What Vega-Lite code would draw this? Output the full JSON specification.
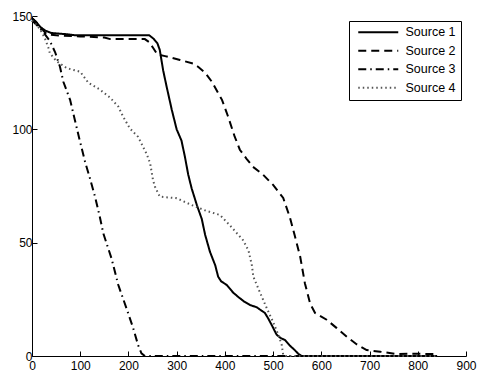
{
  "$schema": "https://vega.github.io/schema/vega-lite/v6.json",
  "width": 434,
  "height": 340,
  "autosize": "none",
  "padding": {"left": 32, "top": 16, "right": 13, "bottom": 19},
  "background": "white",
  "config": {
    "view": {"stroke": null},
    "font": "Liberation Sans",
    "axis": {"grid": false, "domainColor": "black", "tickColor": "black", "labelColor": "black", "labelFont": "Liberation Sans", "labelFontSize": 12, "domainWidth": 1, "tickWidth": 1}
  },
  "datasets": {
    "curves": [
      {"series": "Source 1", "x": 0, "y": 149}, {"series": "Source 1", "x": 8, "y": 147.5}, {"series": "Source 1", "x": 18, "y": 145}, {"series": "Source 1", "x": 28, "y": 143.5}, {"series": "Source 1", "x": 40, "y": 142.5}, {"series": "Source 1", "x": 70, "y": 142}, {"series": "Source 1", "x": 90, "y": 141.5}, {"series": "Source 1", "x": 243, "y": 141.5}, {"series": "Source 1", "x": 252, "y": 140}, {"series": "Source 1", "x": 260, "y": 138}, {"series": "Source 1", "x": 265, "y": 135}, {"series": "Source 1", "x": 272, "y": 126}, {"series": "Source 1", "x": 279, "y": 119}, {"series": "Source 1", "x": 290, "y": 108.5}, {"series": "Source 1", "x": 300, "y": 100}, {"series": "Source 1", "x": 310, "y": 95}, {"series": "Source 1", "x": 317, "y": 88}, {"series": "Source 1", "x": 324, "y": 80}, {"series": "Source 1", "x": 331, "y": 74}, {"series": "Source 1", "x": 342, "y": 66.5}, {"series": "Source 1", "x": 352, "y": 60.5}, {"series": "Source 1", "x": 359, "y": 53.5}, {"series": "Source 1", "x": 369, "y": 46}, {"series": "Source 1", "x": 380, "y": 40}, {"series": "Source 1", "x": 386, "y": 35}, {"series": "Source 1", "x": 392, "y": 33}, {"series": "Source 1", "x": 404, "y": 31.3}, {"series": "Source 1", "x": 417, "y": 28}, {"series": "Source 1", "x": 428, "y": 26}, {"series": "Source 1", "x": 440, "y": 24}, {"series": "Source 1", "x": 452, "y": 22.5}, {"series": "Source 1", "x": 466, "y": 21.5}, {"series": "Source 1", "x": 476, "y": 20}, {"series": "Source 1", "x": 483, "y": 19}, {"series": "Source 1", "x": 490, "y": 16.5}, {"series": "Source 1", "x": 497, "y": 13.7}, {"series": "Source 1", "x": 507, "y": 9.5}, {"series": "Source 1", "x": 515, "y": 8}, {"series": "Source 1", "x": 525, "y": 7}, {"series": "Source 1", "x": 535, "y": 4.5}, {"series": "Source 1", "x": 545, "y": 2.6}, {"series": "Source 1", "x": 552, "y": 1}, {"series": "Source 1", "x": 559, "y": 0}, {"series": "Source 1", "x": 840, "y": 0},
      {"series": "Source 2", "x": 0, "y": 149}, {"series": "Source 2", "x": 10, "y": 147}, {"series": "Source 2", "x": 20, "y": 144.5}, {"series": "Source 2", "x": 30, "y": 142}, {"series": "Source 2", "x": 50, "y": 141.5}, {"series": "Source 2", "x": 100, "y": 141}, {"series": "Source 2", "x": 150, "y": 140.5}, {"series": "Source 2", "x": 162, "y": 139.8}, {"series": "Source 2", "x": 234, "y": 139.8}, {"series": "Source 2", "x": 243, "y": 138.5}, {"series": "Source 2", "x": 251, "y": 136}, {"series": "Source 2", "x": 260, "y": 133}, {"series": "Source 2", "x": 276, "y": 132.3}, {"series": "Source 2", "x": 307, "y": 130.6}, {"series": "Source 2", "x": 334, "y": 129}, {"series": "Source 2", "x": 345, "y": 127.5}, {"series": "Source 2", "x": 359, "y": 125}, {"series": "Source 2", "x": 373, "y": 121}, {"series": "Source 2", "x": 386, "y": 116}, {"series": "Source 2", "x": 394, "y": 113}, {"series": "Source 2", "x": 406, "y": 106}, {"series": "Source 2", "x": 420, "y": 97}, {"series": "Source 2", "x": 431, "y": 91}, {"series": "Source 2", "x": 445, "y": 87}, {"series": "Source 2", "x": 458, "y": 83.5}, {"series": "Source 2", "x": 479, "y": 80}, {"series": "Source 2", "x": 500, "y": 75.5}, {"series": "Source 2", "x": 521, "y": 69.7}, {"series": "Source 2", "x": 535, "y": 61}, {"series": "Source 2", "x": 545, "y": 53}, {"series": "Source 2", "x": 556, "y": 44}, {"series": "Source 2", "x": 566, "y": 32}, {"series": "Source 2", "x": 577, "y": 23}, {"series": "Source 2", "x": 587, "y": 19}, {"series": "Source 2", "x": 611, "y": 16}, {"series": "Source 2", "x": 632, "y": 12.3}, {"series": "Source 2", "x": 653, "y": 8.5}, {"series": "Source 2", "x": 673, "y": 5.2}, {"series": "Source 2", "x": 694, "y": 2.6}, {"series": "Source 2", "x": 722, "y": 1.9}, {"series": "Source 2", "x": 756, "y": 0.9}, {"series": "Source 2", "x": 787, "y": 1}, {"series": "Source 2", "x": 818, "y": 0.9}, {"series": "Source 2", "x": 835, "y": 0.9},
      {"series": "Source 3", "x": 0, "y": 148}, {"series": "Source 3", "x": 10, "y": 146}, {"series": "Source 3", "x": 23, "y": 143}, {"series": "Source 3", "x": 37, "y": 139}, {"series": "Source 3", "x": 48, "y": 134}, {"series": "Source 3", "x": 58, "y": 127.6}, {"series": "Source 3", "x": 65, "y": 121}, {"series": "Source 3", "x": 79, "y": 113}, {"series": "Source 3", "x": 89, "y": 104}, {"series": "Source 3", "x": 98, "y": 96}, {"series": "Source 3", "x": 110, "y": 85.7}, {"series": "Source 3", "x": 120, "y": 78.5}, {"series": "Source 3", "x": 131, "y": 70}, {"series": "Source 3", "x": 140, "y": 62}, {"series": "Source 3", "x": 148, "y": 54}, {"series": "Source 3", "x": 165, "y": 43}, {"series": "Source 3", "x": 179, "y": 31.3}, {"series": "Source 3", "x": 196, "y": 21}, {"series": "Source 3", "x": 210, "y": 12.2}, {"series": "Source 3", "x": 220, "y": 4.8}, {"series": "Source 3", "x": 227, "y": 1.2}, {"series": "Source 3", "x": 234, "y": 0}, {"series": "Source 3", "x": 840, "y": 0},
      {"series": "Source 4", "x": 0, "y": 148}, {"series": "Source 4", "x": 10, "y": 146}, {"series": "Source 4", "x": 20, "y": 143}, {"series": "Source 4", "x": 27, "y": 140}, {"series": "Source 4", "x": 34, "y": 136}, {"series": "Source 4", "x": 37, "y": 133.6}, {"series": "Source 4", "x": 51, "y": 130}, {"series": "Source 4", "x": 72, "y": 127}, {"series": "Source 4", "x": 100, "y": 125.4}, {"series": "Source 4", "x": 117, "y": 120.5}, {"series": "Source 4", "x": 141, "y": 117.5}, {"series": "Source 4", "x": 162, "y": 114}, {"series": "Source 4", "x": 179, "y": 110}, {"series": "Source 4", "x": 189, "y": 105.6}, {"series": "Source 4", "x": 203, "y": 100.4}, {"series": "Source 4", "x": 220, "y": 96.7}, {"series": "Source 4", "x": 238, "y": 89}, {"series": "Source 4", "x": 245, "y": 85}, {"series": "Source 4", "x": 251, "y": 77.6}, {"series": "Source 4", "x": 255, "y": 74.7}, {"series": "Source 4", "x": 265, "y": 70.3}, {"series": "Source 4", "x": 300, "y": 69.6}, {"series": "Source 4", "x": 331, "y": 66.6}, {"series": "Source 4", "x": 362, "y": 64}, {"series": "Source 4", "x": 390, "y": 62.2}, {"series": "Source 4", "x": 411, "y": 57.5}, {"series": "Source 4", "x": 428, "y": 53.4}, {"series": "Source 4", "x": 438, "y": 51}, {"series": "Source 4", "x": 449, "y": 46.5}, {"series": "Source 4", "x": 456, "y": 40}, {"series": "Source 4", "x": 459, "y": 35}, {"series": "Source 4", "x": 469, "y": 29.9}, {"series": "Source 4", "x": 487, "y": 21}, {"series": "Source 4", "x": 500, "y": 15}, {"series": "Source 4", "x": 511, "y": 9.3}, {"series": "Source 4", "x": 518, "y": 4.8}, {"series": "Source 4", "x": 521, "y": 0.4}, {"series": "Source 4", "x": 525, "y": 0}, {"series": "Source 4", "x": 840, "y": 0}
    ]
  },
  "data": {"name": "curves"},
  "mark": {"type": "line", "clip": false},
  "encoding": {
    "x": {"field": "x", "type": "quantitative", "scale": {"domain": [0, 900], "nice": false, "zero": false},
          "axis": {"title": null, "values": [0, 100, 200, 300, 400, 500, 600, 700, 800, 900], "tickSize": -5, "labelPadding": 9, "labelFlush": false}},
    "y": {"field": "y", "type": "quantitative", "scale": {"domain": [0, 150], "nice": false},
          "axis": {"title": null, "values": [0, 50, 100, 150], "tickSize": -5, "labelPadding": 5, "labelFlush": false}},
    "color": {"field": "series", "type": "nominal", "title": null,
              "scale": {"domain": ["Source 1", "Source 2", "Source 3", "Source 4"], "range": ["black", "black", "black", "#555555"]}},
    "strokeDash": {"field": "series", "type": "nominal", "title": null,
                   "scale": {"domain": ["Source 1", "Source 2", "Source 3", "Source 4"], "range": [[1, 0], [8, 5], [8, 4, 1.5, 4], [1.5, 3]]}},
    "strokeWidth": {"field": "series", "type": "nominal", "title": null,
                    "scale": {"domain": ["Source 1", "Source 2", "Source 3", "Source 4"], "range": [2, 2, 2, 1]},
                    "legend": {"orient": "none", "legendX": 317, "legendY": 5, "strokeColor": "black", "fillColor": "white", "padding": 5, "rowPadding": 5.5, "symbolType": "M-1,0H7", "symbolSize": 100, "symbolOffset": 3, "labelFontSize": 12.5, "labelFont": "Liberation Sans", "labelColor": "black", "labelOffset": 36}}
  }
}
